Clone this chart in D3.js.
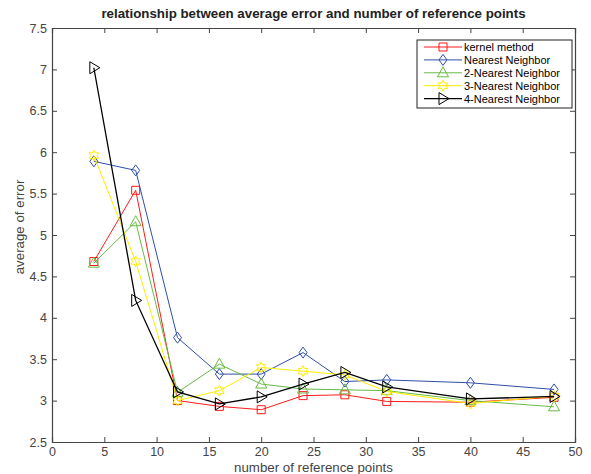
<!DOCTYPE html>
<html>
<head>
<meta charset="utf-8">
<script src="https://cdn.jsdelivr.net/npm/d3@7"></script>
<style>
  body { margin: 0; background: #fff; }
  text { font-family: "Liberation Sans", Arial, sans-serif; }
</style>
</head>
<body>
<div class="chart"></div>
<script>
// data
var refPoints = [4, 8, 12, 16, 20, 24, 28, 32, 40, 48];
var kernelMethod = [4.68, 5.54, 3.00, 2.93, 2.89, 3.06, 3.07, 2.99, 2.98, 3.04];
var nearest1 = [5.89, 5.78, 3.76, 3.32, 3.32, 3.58, 3.23, 3.25, 3.215, 3.135];
var nearest2 = [4.66, 5.16, 3.10, 3.44, 3.20, 3.14, 3.13, 3.12, 3.00, 2.925];
var nearest3 = [5.96, 4.68, 3.00, 3.12, 3.40, 3.355, 3.31, 3.11, 2.965, 3.055];
var nearest4 = [7.02, 4.21, 3.105, 2.96, 3.045, 3.20, 3.34, 3.165, 3.02, 3.05];
var seriesNames = ["kernel method", "Nearest Neighbor", "2-Nearest Neighbor", "3-Nearest Neighbor", "4-Nearest Neighbor"];
var xTicks = [0, 5, 10, 15, 20, 25, 30, 35, 40, 45, 50];
var yTicks = [2.5, 3, 3.5, 4, 4.5, 5, 5.5, 6, 6.5, 7, 7.5];

var svgWidth = 591;
var svgHeight = 474;
var margin = { top: 28, right: 16, bottom: 32, left: 52 };
var width = svgWidth - margin.left - margin.right;
var height = svgHeight - margin.top - margin.bottom;

var series = [
  { name: seriesNames[0], values: kernelMethod, color: "#ff1a1a", marker: "square", lw: 1 },
  { name: seriesNames[1], values: nearest1, color: "#2f4fa8", marker: "diamond", lw: 1 },
  { name: seriesNames[2], values: nearest2, color: "#66bb44", marker: "triangleUp", lw: 1 },
  { name: seriesNames[3], values: nearest3, color: "#ffee00", marker: "star", lw: 1 },
  { name: seriesNames[4], values: nearest4, color: "#000000", marker: "triangleRight", lw: 1.3 }
];

var svg = d3.select(".chart")
  .append("svg")
  .attr("width", svgWidth)
  .attr("height", svgHeight);

var chartGroup = svg.append("g")
  .attr("transform", `translate(${margin.left}, ${margin.top})`);

var xScale = d3.scaleLinear().domain([0, 50]).range([0, width]);
var yScale = d3.scaleLinear().domain([2.5, 7.5]).range([height, 0]);

var axisColor = "#444";

// axes, ticks pointing inward like matlab
var bottomAxis = d3.axisBottom(xScale).tickValues(xTicks).tickSize(-5).tickPadding(5).tickFormat(d3.format("d"));
var leftAxis = d3.axisLeft(yScale).tickValues(yTicks).tickSize(-5).tickPadding(5).tickFormat(d => d);
var topAxis = d3.axisTop(xScale).tickValues(xTicks).tickSize(-5).tickFormat("");
var rightAxis = d3.axisRight(yScale).tickValues(yTicks).tickSize(-5).tickFormat("");

function styleAxis(g) {
  g.select(".domain").attr("stroke", axisColor).attr("stroke-width", 1.2);
  g.selectAll(".tick line").attr("stroke", axisColor);
  g.selectAll(".tick text").attr("fill", "#444").attr("font-size", 12.5)
    .attr("font-family", "Liberation Sans, Arial, sans-serif");
}

chartGroup.append("g").attr("transform", `translate(0, ${height})`).call(bottomAxis).call(styleAxis);
chartGroup.append("g").call(leftAxis).call(styleAxis);
chartGroup.append("g").call(topAxis).call(styleAxis);
chartGroup.append("g").attr("transform", `translate(${width}, 0)`).call(rightAxis).call(styleAxis);

// marker shapes
function markerPath(type) {
  if (type === "square") return "M-4,-4L4,-4L4,4L-4,4Z";
  if (type === "diamond") return "M0,-5.5L4,0L0,5.5L-4,0Z";
  if (type === "triangleUp") return "M0,-6L5.5,4L-5.5,4Z";
  if (type === "triangleRight") return "M-4,-6L6,0L-4,6Z";
  if (type === "star") {
    // six point star like matlab hexagram
    var pts = [];
    for (var i = 0; i < 12; i++) {
      var r = i % 2 === 0 ? 5.5 : 3;
      var a = Math.PI / 6 * i - Math.PI / 2;
      pts.push([r * Math.cos(a), r * Math.sin(a)]);
    }
    return "M" + pts.map(p => p.join(",")).join("L") + "Z";
  }
}

var line = d3.line()
  .x((d, i) => xScale(refPoints[i]))
  .y(d => yScale(d));

series.forEach(function(s) {
  chartGroup.append("path")
    .datum(s.values)
    .attr("fill", "none")
    .attr("stroke", s.color)
    .attr("stroke-width", s.lw)
    .attr("d", line);

  chartGroup.selectAll(".m-" + s.marker)
    .data(s.values)
    .enter()
    .append("path")
    .attr("class", "m-" + s.marker)
    .attr("transform", (d, i) => `translate(${xScale(refPoints[i])}, ${yScale(d)})`)
    .attr("d", markerPath(s.marker))
    .attr("fill", "none")
    .attr("stroke", s.color)
    .attr("stroke-width", 1);
});

// legend
var legend = chartGroup.append("g")
  .attr("transform", `translate(${width - 158}, 12)`);

legend.append("rect")
  .attr("width", 155)
  .attr("height", 68)
  .attr("fill", "#fff")
  .attr("stroke", "#222")
  .attr("stroke-width", 1);

series.forEach(function(s, i) {
  var row = legend.append("g").attr("transform", `translate(0, ${7 + i * 12.9})`);
  row.append("line")
    .attr("x1", 7).attr("x2", 45)
    .attr("stroke", s.color).attr("stroke-width", s.lw);
  row.append("path")
    .attr("transform", "translate(26, 0)")
    .attr("d", markerPath(s.marker))
    .attr("fill", "none")
    .attr("stroke", s.color);
  row.append("text")
    .attr("x", 47)
    .attr("y", 4)
    .attr("font-size", 11)
    .attr("fill", "#000")
    .text(s.name);
});

// title and axis labels
svg.append("text")
  .attr("x", margin.left + width / 2)
  .attr("y", 18)
  .attr("text-anchor", "middle")
  .attr("font-size", 13.3)
  .attr("font-weight", "bold")
  .attr("fill", "#222")
  .text("relationship between average error and number of reference points");

svg.append("text")
  .attr("x", margin.left + width / 2)
  .attr("y", 472)
  .attr("text-anchor", "middle")
  .attr("font-size", 13.3)
  .attr("fill", "#444")
  .text("number of reference points");

svg.append("text")
  .attr("transform", "rotate(-90)")
  .attr("x", -227)
  .attr("y", 24)
  .attr("text-anchor", "middle")
  .attr("font-size", 13.3)
  .attr("fill", "#444")
  .text("average of error");
</script>
</body>
</html>
